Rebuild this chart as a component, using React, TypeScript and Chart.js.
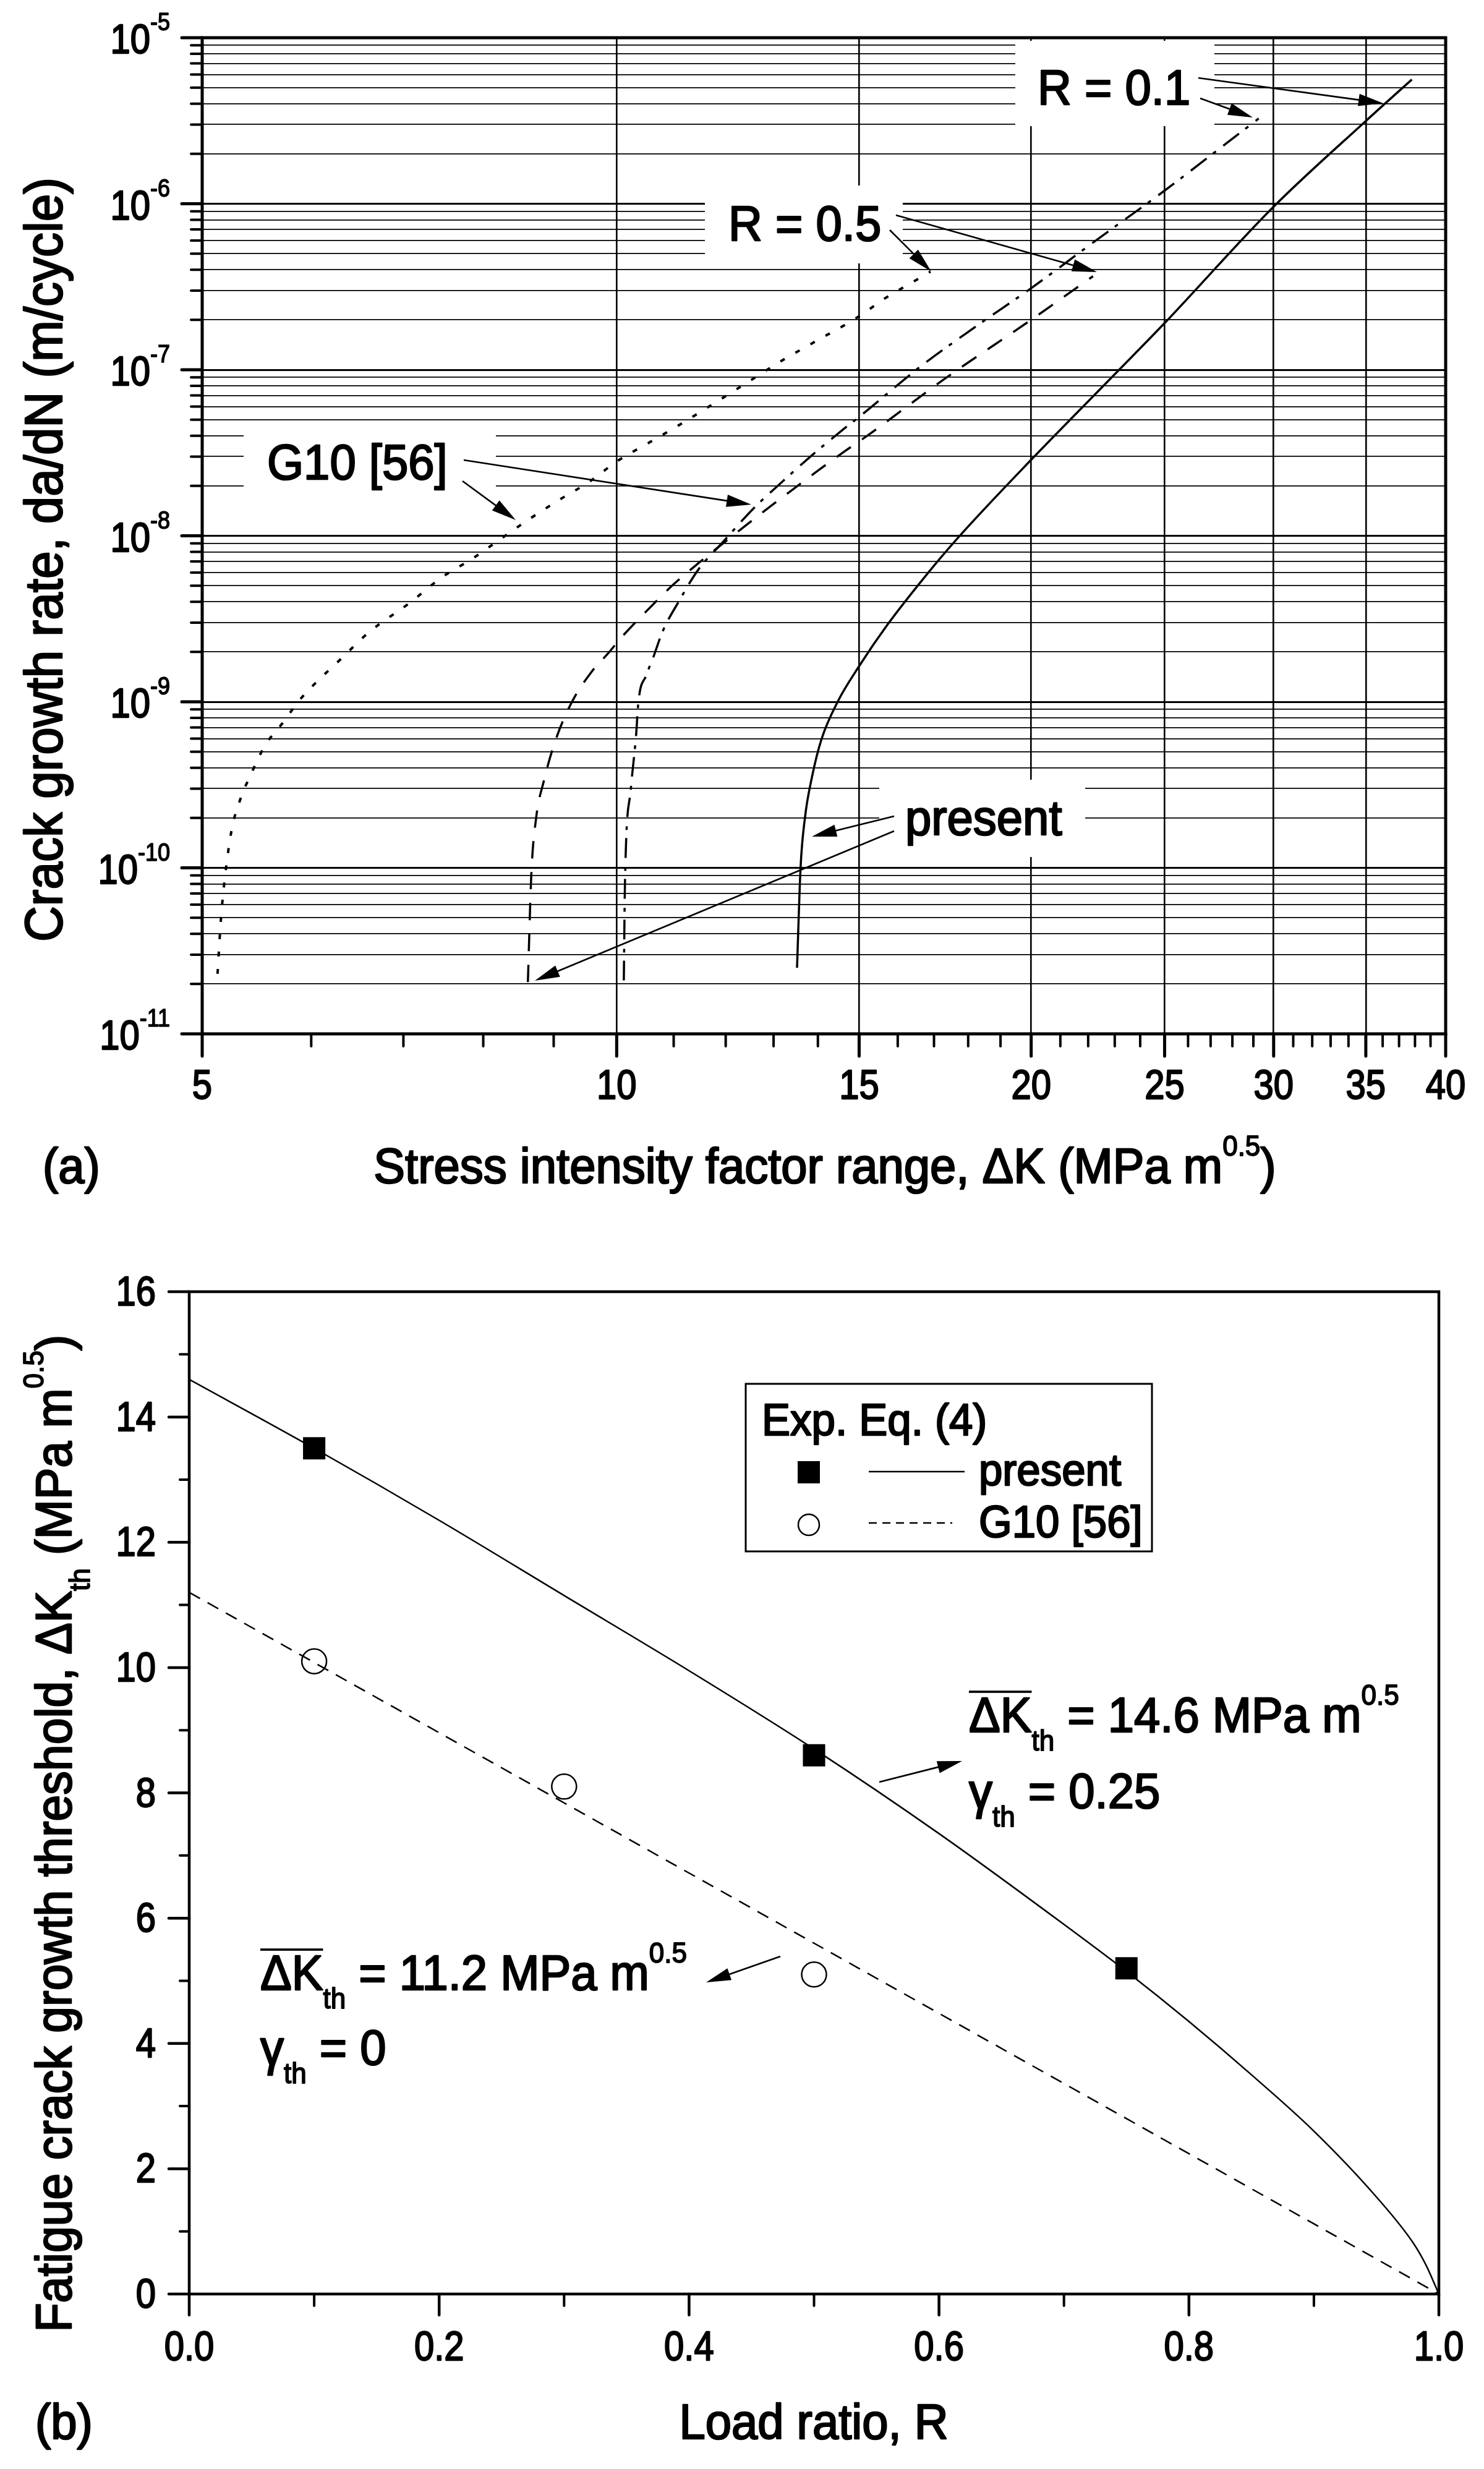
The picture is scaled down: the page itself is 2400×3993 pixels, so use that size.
import { useEffect, useRef } from "react"
import { Chart, registerables } from "chart.js"

Chart.register(...registerables)

// ---------- panel (a): da/dN versus ΔK ----------
// present, R = 0.1 (solid)
const kPresentR01 = [13.52, 13.6, 13.7, 13.86, 14.08, 14.47, 15.0, 15.73, 16.81, 17.71, 20.0, 23.17, 25.0, 30.0, 35.0, 37.8]
const ratePresentR01 = [2.5e-11, 1.0e-10, 2.0e-10, 3.5e-10, 5.9e-10, 1.0e-9, 1.64e-9, 2.92e-9, 5.9e-9, 9.8e-9, 2.87e-8, 1.0e-7, 1.91e-7, 9.6e-7, 3.15e-6, 5.6e-6]
// present, R = 0.5 (dashed)
const kPresentR05 = [8.62, 8.67, 8.74, 8.85, 9.03, 9.28, 9.58, 9.88, 10.06, 10.54, 10.97, 11.43, 12.42, 12.94, 13.48, 14.03, 14.62, 15.24, 17.3, 20.0, 22.18]
const ratePresentR05 = [2.05e-11, 9.2e-11, 2.0e-10, 3.3e-10, 5.9e-10, 1.0e-9, 1.5e-9, 2.0e-9, 2.4e-9, 3.6e-9, 5.0e-9, 6.7e-9, 1.16e-8, 1.51e-8, 1.95e-8, 2.5e-8, 3.2e-8, 4.06e-8, 8.8e-8, 2.0e-7, 3.66e-7]
// G10 [56], R = 0.1 (dash-dot)
const kG10R01 = [10.12, 10.14, 10.24, 10.33, 10.37, 10.51, 10.63, 10.8, 11.1, 11.47, 11.92, 12.56, 13.21, 13.89, 14.62, 15.0, 16.63, 18.28, 20.0, 22.28, 25.0, 27.1, 29.26]
const rateG10R01 = [2.1e-11, 8.3e-11, 3.0e-10, 6.3e-10, 1.0e-9, 1.45e-9, 1.85e-9, 2.66e-9, 4.05e-9, 6.3e-9, 9.0e-9, 1.45e-8, 2.14e-8, 3.1e-8, 4.4e-8, 5.2e-8, 1.05e-7, 1.85e-7, 3.1e-7, 6.0e-7, 1.2e-6, 2.0e-6, 3.26e-6]
// G10 [56], R = 0.5 (dotted)
const kG10R05 = [5.13, 5.16, 5.19, 5.25, 5.33, 5.42, 5.55, 5.73, 5.87, 6.01, 6.3, 6.6, 7.09, 7.46, 7.86, 8.24, 8.64, 9.1, 9.54, 10.0, 10.53, 11.08, 11.67, 12.5, 13.17, 13.86, 15.0, 15.67, 16.5, 16.9]
const rateG10R05 = [2.3e-11, 5.0e-11, 8.3e-11, 1.66e-10, 2.6e-10, 3.6e-10, 5.4e-10, 7.6e-10, 1.0e-9, 1.24e-9, 1.8e-9, 2.6e-9, 4.0e-9, 5.6e-9, 7.3e-9, 9.6e-9, 1.26e-8, 1.66e-8, 2.1e-8, 2.8e-8, 3.6e-8, 4.6e-8, 6.0e-8, 8.6e-8, 1.13e-7, 1.44e-7, 2.1e-7, 2.7e-7, 3.47e-7, 3.9e-7]

const kMajorTicks = [5, 10, 15, 20, 25, 30, 35, 40]
const kMinorTicks = [6, 7, 8, 9, 11, 12, 13, 14, 16, 17, 18, 19, 21, 22, 23, 24, 26, 27, 28, 29, 31, 32, 33, 34, 36, 37, 38, 39]
const kGridLines = [10, 15, 20, 25, 30, 35]
const rateDecades = [-11, -10, -9, -8, -7, -6, -5]

// ---------- panel (b): threshold versus load ratio ----------
const rPresentLine = [0, 0.1, 0.2, 0.3, 0.4, 0.5, 0.6, 0.7, 0.75, 0.8, 0.85, 0.9, 0.95, 0.98, 0.99, 1.0]
const dKthPresentLine = [14.6, 13.5, 12.35, 11.15, 9.95, 8.7, 7.35, 5.9, 5.15, 4.35, 3.5, 2.6, 1.55, 0.8, 0.45, 0]
const rG10Line = [0, 1.0]
const dKthG10Line = [11.2, 0]
const rExpPresent = [0.1, 0.5, 0.75]
const dKthExpPresent = [13.5, 8.6, 5.2]
const rExpG10 = [0.1, 0.3, 0.5]
const dKthExpG10 = [10.1, 8.1, 5.1]

const rTicks = [0, 0.2, 0.4, 0.6, 0.8, 1.0]
const rMinorTicks = [0.1, 0.3, 0.5, 0.7, 0.9]
const dKthTicks = [0, 2, 4, 6, 8, 10, 12, 14, 16]
const dKthMinorTicks = [1, 3, 5, 7, 9, 11, 13, 15]

const FONT = '"Liberation Sans", Arial, sans-serif'

const toXY = (xs: number[], ys: number[]) => xs.map((x, i) => ({ x, y: ys[i] }))

const isDecade = (v: number) => Math.abs(Math.log10(v) - Math.round(Math.log10(v))) < 1e-6

type Seg = { t: string; k?: "sub" | "sup" | "bar" }

// text with sub/superscripts, a little taller and heavier than plain Liberation Sans
function drawRich(
  ctx: CanvasRenderingContext2D,
  segs: Seg[],
  x: number,
  y: number,
  o: { size: number; small?: number; align?: "left" | "center" | "right"; rot?: number; sy?: number; bold?: number }
) {
  const size = o.size
  const small = o.small ?? Math.round(size * 0.58)
  const widths = segs.map((s) => {
    ctx.font = `${s.k === "sub" || s.k === "sup" ? small : size}px ${FONT}`
    return ctx.measureText(s.t).width
  })
  const total = widths.reduce((a, b) => a + b, 0)
  let cx = o.align === "center" ? -total / 2 : o.align === "right" ? -total : 0
  ctx.save()
  ctx.translate(x, y)
  if (o.rot) ctx.rotate(o.rot)
  ctx.scale(1, o.sy ?? 1.06)
  ctx.fillStyle = "#000"
  ctx.strokeStyle = "#000"
  ctx.lineJoin = "round"
  ctx.setLineDash([])
  ctx.textAlign = "left"
  ctx.textBaseline = "alphabetic"
  segs.forEach((s, i) => {
    const isSmall = s.k === "sub" || s.k === "sup"
    ctx.font = `${isSmall ? small : size}px ${FONT}`
    const dy = s.k === "sub" ? size * 0.37 : s.k === "sup" ? -size * 0.55 : 0
    ctx.fillText(s.t, cx, dy)
    ctx.lineWidth = (o.bold ?? 2.4) * (isSmall ? 0.7 : 1)
    ctx.strokeText(s.t, cx, dy)
    if (s.k === "bar") ctx.fillRect(cx, -size * 0.83, widths[i], 3.5)
    cx += widths[i]
  })
  ctx.restore()
}

function seg(ctx: CanvasRenderingContext2D, x1: number, y1: number, x2: number, y2: number, w: number) {
  ctx.lineWidth = w
  ctx.beginPath()
  ctx.moveTo(x1, y1)
  ctx.lineTo(x2, y2)
  ctx.stroke()
}

function arrow(ctx: CanvasRenderingContext2D, x1: number, y1: number, x2: number, y2: number) {
  const head = 40
  const half = 10
  const a = Math.atan2(y2 - y1, x2 - x1)
  const c = Math.cos(a)
  const s = Math.sin(a)
  ctx.save()
  ctx.strokeStyle = "#000"
  ctx.fillStyle = "#000"
  ctx.setLineDash([])
  seg(ctx, x1, y1, x2 - head * 0.8 * c, y2 - head * 0.8 * s, 2.6)
  ctx.beginPath()
  ctx.moveTo(x2, y2)
  ctx.lineTo(x2 - head * c + half * s, y2 - head * s - half * c)
  ctx.lineTo(x2 - head * c - half * s, y2 - head * s + half * c)
  ctx.closePath()
  ctx.fill()
  ctx.restore()
}

const TICK = { size: 58, small: 36, sy: 1.15, bold: 2 }

// white boxes behind the labels of panel (a): [x0, y0, x1, y1]
const labelBoxesA = [
  [1642, 66, 1964, 204],
  [1140, 300, 1460, 426],
  [394, 690, 802, 800],
  [1422, 1261, 1755, 1386],
]

const panelAPlugin = {
  id: "panelA",
  beforeDatasetsDraw(chart: any) {
    const ctx = chart.ctx as CanvasRenderingContext2D
    ctx.save()
    ctx.fillStyle = "#fff"
    labelBoxesA.forEach(([x0, y0, x1, y1]) => ctx.fillRect(x0, y0, x1 - x0, y1 - y0))
    ctx.restore()
  },
  afterDraw(chart: any) {
    const ctx = chart.ctx as CanvasRenderingContext2D
    const a = chart.chartArea
    const xs = chart.scales.x
    const ys = chart.scales.y
    ctx.save()
    ctx.strokeStyle = "#000"
    ctx.fillStyle = "#000"
    ctx.setLineDash([])
    ctx.lineCap = "round"

    // x ticks
    kMajorTicks.forEach((k) => {
      const x = xs.getPixelForValue(k)
      seg(ctx, x, a.bottom, x, a.bottom + 36, 5)
    })
    kMinorTicks.forEach((k) => {
      const x = xs.getPixelForValue(k)
      seg(ctx, x, a.bottom, x, a.bottom + 20, 4)
    })
    // y ticks
    rateDecades.forEach((e, i) => {
      const y = ys.getPixelForValue(Math.pow(10, e))
      seg(ctx, a.left, y, a.left - 33, y, 5)
      if (i < rateDecades.length - 1) {
        for (let m = 2; m <= 9; m++) {
          const ym = ys.getPixelForValue(m * Math.pow(10, e))
          seg(ctx, a.left, ym, a.left - 18, ym, 4)
        }
      }
    })
    ctx.lineCap = "butt"
    ctx.lineWidth = 5
    ctx.strokeRect(a.left, a.top, a.right - a.left, a.bottom - a.top)
    ctx.restore()

    // tick labels
    kMajorTicks.forEach((k) => drawRich(ctx, [{ t: String(k) }], xs.getPixelForValue(k), 1777, { ...TICK, align: "center" }))
    rateDecades.forEach((e) => {
      const y = ys.getPixelForValue(Math.pow(10, e))
      drawRich(ctx, [{ t: "10" }, { t: `-${-e}`, k: "sup" }], 275, y + 25, { ...TICK, align: "right" })
    })

    // axis titles
    drawRich(ctx, [{ t: "Crack growth rate, da/dN (m/cycle)" }], 100, 905, { size: 80, align: "center", rot: -Math.PI / 2 })
    drawRich(ctx, [{ t: "Stress intensity factor range, ΔK (MPa m" }, { t: "0.5", k: "sup" }, { t: ")" }], 1334, 1913, {
      size: 76,
      small: 44,
      align: "center",
    })
    drawRich(ctx, [{ t: "(a)" }], 69, 1913, { size: 76 })

    // curve labels
    drawRich(ctx, [{ t: "R = 0.1" }], 1678, 169, { size: 76 })
    drawRich(ctx, [{ t: "R = 0.5" }], 1178, 389, { size: 76 })
    drawRich(ctx, [{ t: "G10 [56]" }], 432, 775, { size: 76 })
    drawRich(ctx, [{ t: "present" }], 1464, 1350, { size: 76 })

    arrow(ctx, 1938, 126, 2237, 167)
    arrow(ctx, 1941, 159, 2026, 190)
    arrow(ctx, 1449, 348, 1774, 440)
    arrow(ctx, 1439, 372, 1506, 439)
    arrow(ctx, 750, 744, 1215, 816)
    arrow(ctx, 748, 778, 834, 841)
    arrow(ctx, 1446, 1320, 1313, 1353)
    arrow(ctx, 1446, 1344, 865, 1586)
  },
}

const panelBPlugin = {
  id: "panelB",
  afterDraw(chart: any) {
    const ctx = chart.ctx as CanvasRenderingContext2D
    const a = chart.chartArea
    const xs = chart.scales.x
    const ys = chart.scales.y
    ctx.save()
    ctx.strokeStyle = "#000"
    ctx.fillStyle = "#000"
    ctx.setLineDash([])
    ctx.lineCap = "round"

    rTicks.forEach((r) => {
      const x = xs.getPixelForValue(r)
      seg(ctx, x, a.bottom, x, a.bottom + 34, 4.5)
    })
    rMinorTicks.forEach((r) => {
      const x = xs.getPixelForValue(r)
      seg(ctx, x, a.bottom, x, a.bottom + 19, 4)
    })
    dKthTicks.forEach((v) => {
      const y = ys.getPixelForValue(v)
      seg(ctx, a.left, y, a.left - 33, y, 4.5)
    })
    dKthMinorTicks.forEach((v) => {
      const y = ys.getPixelForValue(v)
      seg(ctx, a.left, y, a.left - 15, y, 4)
    })
    ctx.lineCap = "butt"
    ctx.lineWidth = 4.5
    ctx.strokeRect(a.left, a.top, a.right - a.left, a.bottom - a.top)

    // legend
    ctx.lineWidth = 3
    ctx.strokeRect(1206, 248, 657, 271)
    ctx.fillRect(1290, 373, 36, 36)
    seg(ctx, 1405, 390, 1560, 390, 2.5)
    ctx.beginPath()
    ctx.arc(1308, 476, 17, 0, Math.PI * 2)
    ctx.fillStyle = "#fff"
    ctx.fill()
    ctx.lineWidth = 2.5
    ctx.stroke()
    ctx.fillStyle = "#000"
    ctx.setLineDash([13, 9])
    seg(ctx, 1405, 473, 1540, 473, 2.5)
    ctx.setLineDash([])
    ctx.restore()

    rTicks.forEach((r) => drawRich(ctx, [{ t: r.toFixed(1) }], xs.getPixelForValue(r), 1827, { ...TICK, align: "center" }))
    dKthTicks.forEach((v) => drawRich(ctx, [{ t: String(v) }], 252, ys.getPixelForValue(v) + 22, { ...TICK, align: "right" }))

    drawRich(ctx, [{ t: "Exp. Eq. (4)" }], 1232, 331, { size: 69 })
    drawRich(ctx, [{ t: "present" }], 1583, 412, { size: 69 })
    drawRich(ctx, [{ t: "G10 [56]" }], 1583, 496, { size: 69 })

    // axis titles
    drawRich(
      ctx,
      [{ t: "Fatigue crack growth threshold, ΔK" }, { t: "th", k: "sub" }, { t: " (MPa m" }, { t: "0.5", k: "sup" }, { t: ")" }],
      115,
      975,
      { size: 77, small: 44, align: "center", rot: -Math.PI / 2 }
    )
    drawRich(ctx, [{ t: "Load ratio, R" }], 1316, 1954, { size: 76, align: "center" })
    drawRich(ctx, [{ t: "(b)" }], 57, 1954, { size: 76 })

    // annotations
    drawRich(ctx, [{ t: "ΔK", k: "bar" }, { t: "th", k: "sub" }, { t: " = 14.6 MPa m" }, { t: "0.5", k: "sup" }], 1567, 811, {
      size: 76,
      small: 44,
    })
    drawRich(ctx, [{ t: "γ" }, { t: "th", k: "sub" }, { t: " = 0.25" }], 1567, 934, { size: 76, small: 44 })
    drawRich(ctx, [{ t: "ΔK", k: "bar" }, { t: "th", k: "sub" }, { t: " = 11.2 MPa m" }, { t: "0.5", k: "sup" }], 421, 1228, {
      size: 76,
      small: 44,
    })
    drawRich(ctx, [{ t: "γ" }, { t: "th", k: "sub" }, { t: " = 0" }], 421, 1349, { size: 76, small: 44 })

    arrow(ctx, 1422, 892, 1556, 858)
    arrow(ctx, 1262, 1174, 1142, 1216)
  },
}

function hiddenScale(extra: any) {
  return {
    ticks: { display: false },
    border: { display: false },
    ...extra,
  }
}

export default function App() {
  const refA = useRef<HTMLCanvasElement>(null)
  const refB = useRef<HTMLCanvasElement>(null)

  useEffect(() => {
    document.body.style.margin = "0"
    Chart.defaults.font.family = FONT
    const charts: Chart[] = []

    const rateGrid: number[] = []
    rateDecades.forEach((e, i) => {
      if (i === rateDecades.length - 1) rateGrid.push(Math.pow(10, e))
      else for (let m = 1; m <= 9; m++) rateGrid.push(m * Math.pow(10, e))
    })

    if (refA.current) {
      const base = { borderColor: "#000", borderWidth: 3.5, pointRadius: 0, fill: false, cubicInterpolationMode: "monotone" as const }
      charts.push(
        new Chart(refA.current, {
          type: "line",
          data: {
            datasets: [
              { ...base, label: "present, R = 0.1", data: toXY(kPresentR01, ratePresentR01) },
              { ...base, label: "present, R = 0.5", data: toXY(kPresentR05, ratePresentR05), borderDash: [28, 22] },
              { ...base, label: "G10 [56], R = 0.1", data: toXY(kG10R01, rateG10R01), borderDash: [32, 13, 6, 15] },
              { ...base, label: "G10 [56], R = 0.5", data: toXY(kG10R05, rateG10R05), borderDash: [8, 20], borderWidth: 4 },
            ],
          },
          options: {
            responsive: false,
            animation: false,
            devicePixelRatio: 1,
            layout: { autoPadding: false, padding: { left: 327, right: 62, top: 61, bottom: 318 } },
            plugins: { legend: { display: false }, tooltip: { enabled: false } },
            scales: {
              x: hiddenScale({
                type: "logarithmic",
                min: 5,
                max: 40,
                afterFit: (s: any) => {
                  s.height = 0
                },
                afterBuildTicks: (s: any) => {
                  s.ticks = kGridLines.map((v) => ({ value: v }))
                },
                grid: { color: "#000", lineWidth: 2.6, drawTicks: false },
              }),
              y: hiddenScale({
                type: "logarithmic",
                min: 1e-11,
                max: 1e-5,
                afterFit: (s: any) => {
                  s.width = 0
                },
                afterBuildTicks: (s: any) => {
                  s.ticks = rateGrid.map((v) => ({ value: v }))
                },
                grid: {
                  color: "#000",
                  lineWidth: (c: any) => (c.tick && isDecade(c.tick.value) ? 3 : 1.8),
                  drawTicks: false,
                },
              }),
            },
          } as any,
          plugins: [panelAPlugin],
        })
      )
    }

    if (refB.current) {
      charts.push(
        new Chart(refB.current, {
          type: "line",
          data: {
            datasets: [
              {
                label: "present",
                data: toXY(rPresentLine, dKthPresentLine),
                borderColor: "#000",
                borderWidth: 2.5,
                pointRadius: 0,
                cubicInterpolationMode: "monotone",
              },
              {
                label: "G10 [56]",
                data: toXY(rG10Line, dKthG10Line),
                borderColor: "#000",
                borderWidth: 2.5,
                borderDash: [20, 14],
                pointRadius: 0,
              },
              {
                label: "Exp. present",
                data: toXY(rExpPresent, dKthExpPresent),
                showLine: false,
                pointStyle: "rect",
                pointRadius: 25.5,
                pointBackgroundColor: "#000",
                pointBorderColor: "#000",
                pointBorderWidth: 0,
              },
              {
                label: "Exp. G10 [56]",
                data: toXY(rExpG10, dKthExpG10),
                showLine: false,
                pointStyle: "circle",
                pointRadius: 20,
                pointBackgroundColor: "#fff",
                pointBorderColor: "#000",
                pointBorderWidth: 2.5,
              },
            ],
          },
          options: {
            responsive: false,
            animation: false,
            devicePixelRatio: 1,
            layout: { autoPadding: false, padding: { left: 306, right: 73, top: 99, bottom: 283 } },
            plugins: { legend: { display: false }, tooltip: { enabled: false } },
            scales: {
              x: hiddenScale({
                type: "linear",
                min: 0,
                max: 1,
                afterFit: (s: any) => {
                  s.height = 0
                },
                grid: { display: false },
              }),
              y: hiddenScale({
                type: "linear",
                min: 0,
                max: 16,
                afterFit: (s: any) => {
                  s.width = 0
                },
                grid: { display: false },
              }),
            },
          } as any,
          plugins: [panelBPlugin],
        })
      )
    }

    return () => charts.forEach((c) => c.destroy())
  }, [])

  return (
    <div style={{ position: "relative", width: 2400, height: 3993, background: "#fff" }}>
      <canvas ref={refA} width={2400} height={1990} style={{ position: "absolute", left: 0, top: 0 }} />
      <canvas ref={refB} width={2400} height={2003} style={{ position: "absolute", left: 0, top: 1990 }} />
    </div>
  )
}
